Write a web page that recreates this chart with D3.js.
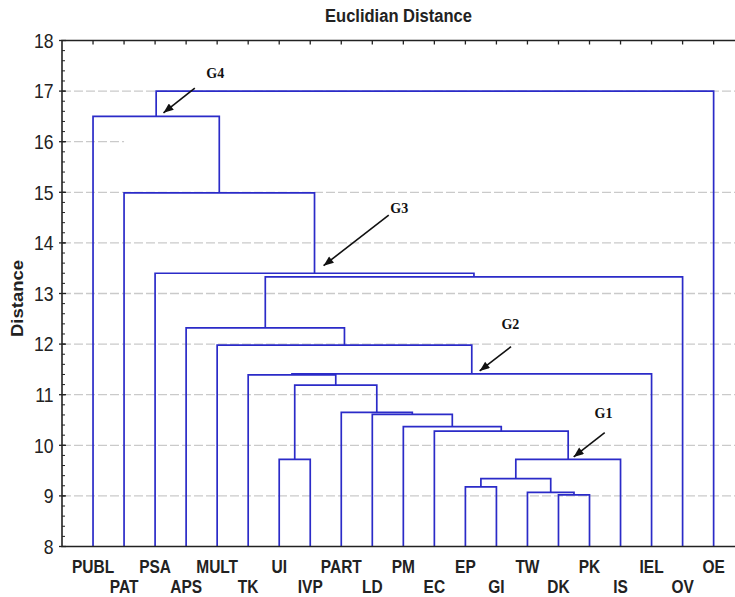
<!DOCTYPE html>
<html>
<head>
<meta charset="utf-8">
<script src="https://cdn.jsdelivr.net/npm/d3@7"></script>
<style>
    body { margin: 0; background: #fff; }
    text { font-family: "Liberation Sans", Arial, sans-serif; }
</style>
</head>
<body>
<div id="dendro"></div>
<script>
// Euclidian distance dendrogram

// leaves, left to right
const leaves = ["PUBL", "PAT", "PSA", "APS", "MULT", "TK", "UI", "IVP", "PART", "LD", "PM",
    "EC", "EP", "GI", "TW", "DK", "PK", "IS", "IEL", "OV", "OE"];

// merges in order, node k is called "n" + (k+1)
const mergeLeft  = ["DK", "TW", "EP", "n3", "n4", "EC", "PM", "LD", "PART", "UI",
    "n10", "TK", "n12", "MULT", "APS", "n15", "PSA", "PAT", "PUBL", "n19"];
const mergeRight = ["PK", "n1", "GI", "n2", "IS", "n5", "n6", "n7", "n8", "IVP",
    "n9", "n11", "IEL", "n13", "n14", "OV", "n16", "n17", "n18", "OE"];
const mergeHeight = [9.02, 9.07, 9.18, 9.34, 9.72, 10.28, 10.37, 10.61, 10.65, 9.72,
    11.19, 11.39, 11.41, 11.98, 12.32, 13.33, 13.40, 14.99, 16.50, 17.00];

const yTicks = [8, 9, 10, 11, 12, 13, 14, 15, 16, 17, 18];
const gridValues = [9, 10, 11, 12, 13, 14, 15, 16, 17];

// group annotations (leaf units, distance units)
const annoLabels = ["G4", "G3", "G2", "G1"];
const annoText = [[3.94, 17.26], [9.87, 14.585], [13.45, 12.29], [16.45, 10.53]];
const annoTail = [[3.28, 17.06], [9.53, 14.55], [13.47, 11.95], [16.49, 10.25]];
const annoTip  = [[2.27, 16.57], [7.43, 13.55], [12.46, 11.47], [15.49, 9.77]];

const lineBlue = "#2b2bc8";
const squeeze = 0.88;   // the original text is a bit narrow

class Dendrogram {

    constructor(parentElement) {
        this.parentElement = parentElement;
        this.initVis();
    }

    initVis() {
        let vis = this;

        vis.width = 735;
        vis.height = 597;

        vis.svg = d3.select("#" + vis.parentElement).append("svg")
            .attr("width", vis.width)
            .attr("height", vis.height);

        // Scales
        vis.x = d3.scaleLinear()
            .domain([-1, 21])
            .range([62, 62 + 22 * 31.03]);

        vis.y = d3.scaleLinear()
            .domain([8, 18])
            .range([546.5, 40.5]);

        // position of every leaf / node
        vis.pos = {};
        leaves.forEach((d, i) => vis.pos[d] = {x: i, h: 8});
        mergeHeight.forEach((h, k) => {
            let a = vis.pos[mergeLeft[k]], b = vis.pos[mergeRight[k]];
            vis.pos["n" + (k + 1)] = {x: (a.x + b.x) / 2, h: h, a: a, b: b};
        });

        vis.drawGrid();
        vis.drawTree();
        vis.drawAxes();
        vis.drawAnnotations();
    }

    drawGrid() {
        let vis = this;

        vis.svg.append("g")
            .attr("class", "grid")
            .selectAll("line")
            .data(gridValues)
            .join("line")
            .attr("x1", vis.x(-1))
            .attr("x2", d => d === 16 ? vis.x(1) : vis.width)
            .attr("y1", d => vis.y(d))
            .attr("y2", d => vis.y(d))
            .attr("stroke", "#cacaca")
            .attr("stroke-width", 1.3)
            .attr("stroke-dasharray", "9,3");
    }

    drawTree() {
        let vis = this;

        let nodes = mergeHeight.map((h, k) => vis.pos["n" + (k + 1)]);

        vis.svg.append("g")
            .attr("class", "links")
            .selectAll("path")
            .data(nodes)
            .join("path")
            .attr("d", d => "M" + vis.x(d.a.x) + "," + vis.y(d.a.h)
                + "V" + vis.y(d.h)
                + "H" + vis.x(d.b.x)
                + "V" + vis.y(d.b.h))
            .attr("fill", "none")
            .attr("stroke", lineBlue)
            .attr("stroke-width", 1.7);
    }

    drawAxes() {
        let vis = this;
        let axis = vis.svg.append("g").attr("class", "axis");

        // frame: left, top, bottom
        axis.append("path")
            .attr("d", "M" + vis.width + "," + vis.y(18) + "H" + vis.x(-1)
                + "V" + vis.y(8) + "H" + vis.width)
            .attr("fill", "none")
            .attr("stroke", "#222")
            .attr("stroke-width", 1.6);

        // top ticks at each leaf
        axis.selectAll("line.top-tick")
            .data(leaves)
            .join("line")
            .attr("class", "top-tick")
            .attr("x1", (d, i) => vis.x(i))
            .attr("x2", (d, i) => vis.x(i))
            .attr("y1", vis.y(18))
            .attr("y2", vis.y(18) + 4)
            .attr("stroke", "#222")
            .attr("stroke-width", 1.3);

        // y ticks, major and minor
        let minor = d3.range(8, 18.01, 0.2);
        axis.selectAll("line.minor")
            .data(minor)
            .join("line")
            .attr("class", "minor")
            .attr("x1", vis.x(-1))
            .attr("x2", vis.x(-1) + 3)
            .attr("y1", d => vis.y(d))
            .attr("y2", d => vis.y(d))
            .attr("stroke", "#222")
            .attr("stroke-width", 1);

        axis.selectAll("line.major")
            .data(yTicks)
            .join("line")
            .attr("class", "major")
            .attr("x1", vis.x(-1) - 3)
            .attr("x2", vis.x(-1) + 4)
            .attr("y1", d => vis.y(d))
            .attr("y2", d => vis.y(d))
            .attr("stroke", "#222")
            .attr("stroke-width", 1.3);

        axis.selectAll("text.ytick")
            .data(yTicks)
            .join("text")
            .attr("class", "ytick")
            .attr("transform", d => `translate(53.5, ${vis.y(d) + 7.2}) scale(${squeeze},1)`)
            .attr("text-anchor", "end")
            .attr("font-size", 20)
            .attr("fill", "#222")
            .text(d => d);

        // leaf labels on two rows
        axis.selectAll("text.leaf")
            .data(leaves)
            .join("text")
            .attr("class", "leaf")
            .attr("transform", (d, i) => `translate(${vis.x(i)}, ${i % 2 === 0 ? 572.7 : 593.3}) scale(${squeeze},1)`)
            .attr("text-anchor", "middle")
            .attr("font-size", 17.6)
            .attr("font-weight", "bold")
            .attr("fill", "#222")
            .text(d => d);

        // title
        vis.svg.append("text")
            .attr("transform", `translate(398.5, 22) scale(${squeeze},1)`)
            .attr("text-anchor", "middle")
            .attr("font-size", 18.8)
            .attr("font-weight", "bold")
            .attr("fill", "#222")
            .text("Euclidian Distance");

        // y label
        vis.svg.append("text")
            .attr("transform", `translate(23, ${(vis.y(8) + vis.y(18)) / 2 + 5}) scale(${squeeze},1) rotate(-90)`)
            .attr("text-anchor", "middle")
            .attr("font-size", 18.5)
            .attr("font-weight", "bold")
            .attr("fill", "#222")
            .text("Distance");
    }

    drawAnnotations() {
        let vis = this;

        vis.svg.append("defs").append("marker")
            .attr("id", "arrow")
            .attr("viewBox", "0 0 10 8")
            .attr("refX", 10)
            .attr("refY", 4)
            .attr("markerWidth", 11)
            .attr("markerHeight", 8)
            .attr("markerUnits", "userSpaceOnUse")
            .attr("orient", "auto")
            .append("path")
            .attr("d", "M0,0L10,4L0,8Z")
            .attr("fill", "#111");

        let g = vis.svg.append("g").attr("class", "annotations");

        g.selectAll("line")
            .data(annoLabels)
            .join("line")
            .attr("x1", (d, i) => vis.x(annoTail[i][0]))
            .attr("y1", (d, i) => vis.y(annoTail[i][1]))
            .attr("x2", (d, i) => vis.x(annoTip[i][0]))
            .attr("y2", (d, i) => vis.y(annoTip[i][1]))
            .attr("stroke", "#111")
            .attr("stroke-width", 1.6)
            .attr("marker-end", "url(#arrow)");

        // serif labels, set as style so the css rule above does not win
        g.selectAll("text")
            .data(annoLabels)
            .join("text")
            .attr("x", (d, i) => vis.x(annoText[i][0]))
            .attr("y", (d, i) => vis.y(annoText[i][1]))
            .attr("text-anchor", "middle")
            .style("font-family", "'Liberation Serif', 'Times New Roman', serif")
            .attr("font-size", 14)
            .attr("font-weight", "bold")
            .attr("fill", "#111")
            .text(d => d);
    }
}

new Dendrogram("dendro");
</script>
</body>
</html>
